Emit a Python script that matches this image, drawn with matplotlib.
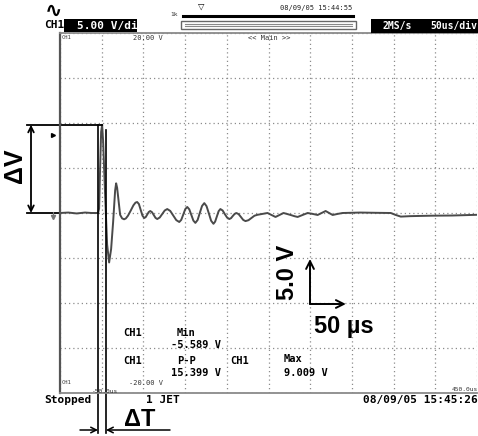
import numpy as np
import matplotlib
matplotlib.use("Agg")
from matplotlib import pyplot as plt
from matplotlib.patches import Rectangle

W, H = 478, 436

# trace (time in us, voltage in V)
timeUs = [-50, -40, -30, -20, -12, -6, -4.3, -3.1, -1.9, -0.7, 0.5, 1.7, 4.1, 6.5,
          8.9, 11.3, 13.7, 16.1, 17.3, 18.5, 19.7, 22.1, 24.5, 26.9,
          29, 31.5, 34.7, 38, 40.5, 42.5, 44.6, 46.8, 48.9, 51,
          52.8, 54.6, 56.4, 58.2, 60.3, 62.4, 64.5, 66.6,
          69.6, 72.6, 75.6, 78.6, 82.2, 85.8, 89.4, 93,
          95.4, 97.8, 100.2, 102.6, 105, 107.5, 109.9, 112.3,
          115, 117.6, 120.3, 123, 125.7, 128.5, 131.2, 134,
          136, 138.1, 140.2, 142.3, 145, 147.6, 150.3, 153,
          155.1, 157.2, 159.4, 161.5, 164.2, 167, 169.7, 172.4,
          176, 179.6, 183.2, 186.8, 192.8, 198.8, 203.6, 208.4, 213.2, 218,
          222, 226.5, 231, 234.9, 240.9, 246.9, 252.9, 258.9, 263.7, 268.5,
          272.7, 276.9, 282.9, 288.9, 310, 330, 346.6, 352, 358.6, 370,
          395, 420, 450]
volts = [0, 0.05, -0.05, 0.05, 0, 0, 0, 0.5, 5, 9, 9.8, 8, 2, -3.5,
         -5.5, -4, -1, 2.5, 3.3, 2.8, 1.8, -0.2, -0.6, -0.7,
         -0.6, -0.3, 0.25, 0.85, 1.15, 1.22, 1.0, 0.33, -0.3, -0.56,
         -0.45, -0.17, 0.11, 0.22, 0.09, -0.22, -0.54, -0.67,
         -0.5, -0.11, 0.28, 0.44, 0.23, -0.28, -0.79, -1.0,
         -0.76, -0.17, 0.43, 0.67, 0.41, -0.22, -0.84, -1.1,
         -0.78, 0, 0.78, 1.1, 0.76, -0.05, -0.86, -1.2,
         -0.96, -0.38, 0.2, 0.44, 0.28, -0.12, -0.5, -0.67,
         -0.57, -0.33, -0.1, 0, -0.13, -0.45, -0.77, -0.9,
         -0.8, -0.55, -0.3, -0.2, -0.1, 0, -0.22, -0.44, -0.22, 0,
         -0.1, -0.22, -0.35, -0.44, -0.22, 0, -0.1, -0.22, 0, 0.22,
         0, -0.22, -0.1, 0, 0.05, 0.02, 0, -0.2, -0.4, -0.35,
         -0.3, -0.28, -0.2]

tMin, tMax, usPerDiv = -50, 450, 50
vMin, vMax, vPerDiv = -20, 20, 5

headerLeft = "5.00 V/div"
headerRate = "2MS/s"
headerScale = "50us/div"
dateTop = "08/09/05 15:44:55"
dateBottom = "08/09/05 15:45:26"
measRows = [("CH1", "Min", "-5.589 V"), ("CH1", "P-P", "15.399 V")]
maxLabel = ("CH1", "Max", "9.009 V")

monoFont = "DejaVu Sans Mono"
boldFont = "Liberation Sans"

fig = plt.figure(figsize=(W / 100, H / 100), dpi=100)
fig.patch.set_facecolor("white")

# main scope screen, placed in pixels
left, right, top, bottom = 60, 477, 33, 393
ax = fig.add_axes([left / W, 1 - bottom / H, (right - left) / W, (bottom - top) / H])
ax.set_xlim(tMin, tMax)
ax.set_ylim(vMin, vMax)
ax.set_xticks(np.arange(tMin, tMax + 1, usPerDiv))
ax.set_yticks(np.arange(vMin, vMax + 1, vPerDiv))
ax.tick_params(length=0, labelbottom=False, labelleft=False)
ax.grid(True, color="#8c8c8c", linestyle=(0, (1, 2.4)), linewidth=0.9)
for s in ax.spines.values():
    s.set_color("#8a8a8a")
    s.set_linewidth(1.3)
ax.spines["left"].set_color("#555555")
ax.spines["left"].set_linewidth(1.6)
ax.spines["right"].set_visible(False)

ax.plot(timeUs, volts, color="#4a4a4a", linewidth=1.4, solid_joinstyle="round")

# helper to go from screen pixels to data
def px2t(x):
    return tMin + (x - left) * (tMax - tMin) / (right - left)

def py2v(y):
    return vMax - (y - top) * (vMax - vMin) / (bottom - top)

peakIdx = int(np.argmax(volts))
vPeak = volts[peakIdx]
tPeak = timeUs[peakIdx]

# delta V annotation
ax.plot([px2t(27), tPeak], [vPeak, vPeak], color="black", lw=1.3, clip_on=False)
ax.plot([px2t(27), tMin], [0, 0], color="black", lw=1.3, clip_on=False)
ax.annotate("", xy=(px2t(31), vPeak), xytext=(px2t(31), 0), annotation_clip=False,
            arrowprops=dict(arrowstyle="<->", color="black", lw=1.3, shrinkA=0, shrinkB=0))
ax.text(px2t(15), py2v(166), "ΔV", rotation=90, ha="center", va="center",
        fontsize=18, fontweight="bold", family=boldFont, clip_on=False)

# delta T annotation
tA, tB = px2t(98), px2t(106)
ax.plot([tA, tA], [vPeak, py2v(433)], color="black", lw=1.2, clip_on=False)
ax.plot([tB, tB], [py2v(130), py2v(433)], color="black", lw=1.2, clip_on=False)
yArr = py2v(430)
ax.annotate("", xy=(tA, yArr), xytext=(px2t(80), yArr), annotation_clip=False,
            arrowprops=dict(arrowstyle="->", color="black", lw=1.1, shrinkA=0, shrinkB=0))
ax.annotate("", xy=(tB, yArr), xytext=(px2t(170), yArr), annotation_clip=False,
            arrowprops=dict(arrowstyle="->", color="black", lw=1.1, shrinkA=0, shrinkB=0))
ax.text(px2t(140), py2v(420), "ΔT", ha="center", va="center", fontsize=17,
        fontweight="bold", family=boldFont, clip_on=False)

# scale bar
cx, cy = px2t(310), py2v(304)
ax.annotate("", xy=(cx, cy + vPerDiv), xytext=(cx, cy),
            arrowprops=dict(arrowstyle="->", color="black", lw=1.4, shrinkA=0, shrinkB=0,
                            mutation_scale=14))
ax.annotate("", xy=(cx + usPerDiv * 0.86, cy), xytext=(cx, cy),
            arrowprops=dict(arrowstyle="->", color="black", lw=1.4, shrinkA=0, shrinkB=0,
                            mutation_scale=14))
ax.text(px2t(288), py2v(272), "5.0 V", rotation=90, ha="center", va="center",
        fontsize=17, fontweight="bold", family=boldFont)
ax.text(px2t(344), py2v(327), "50 µs", ha="center", va="center",
        fontsize=17, fontweight="bold", family=boldFont)

# overlay in pixel coords for the scope chrome
ov = fig.add_axes([0, 0, 1, 1], zorder=5)
ov.set_xlim(0, W)
ov.set_ylim(H, 0)
ov.axis("off")
ov.patch.set_alpha(0)

def stxt(x, y, s, size=5, color="#333333", ha="left", weight="normal", **kw):
    return ov.text(x, y, s, fontsize=size, color=color, ha=ha, va="center",
                   family=monoFont, fontweight=weight, **kw)

ov.text(54, 11, "∿", fontsize=15, ha="center", va="center", family="DejaVu Sans",
        fontweight="bold")
stxt(44, 25.5, "CH1", size=8, color="black", weight="bold")
box = Rectangle((64, 19), 73, 13, facecolor="black", edgecolor="none")
ov.add_patch(box)
t = stxt(77, 25.5, headerLeft, size=8, color="white", weight="bold")
t.set_clip_path(box)

stxt(170, 15, "1k", size=4.5)
ov.text(201, 6.5, "▽", fontsize=6, ha="center", va="center", family="DejaVu Sans")
ov.plot([183, 353], [16, 16], color="black", lw=2.2)
ov.add_patch(Rectangle((181, 21), 175, 8, facecolor="white", edgecolor="#666666", lw=1))
ov.plot([185, 352], [24, 24], color="#888888", lw=0.8)
ov.plot([185, 352], [26.5, 26.5], color="#888888", lw=0.8)
stxt(280, 8, dateTop, size=5, color="#222222")

box2 = Rectangle((371, 19), 107, 14, facecolor="black", edgecolor="none")
ov.add_patch(box2)
stxt(383, 26, headerRate, size=7, color="white", weight="bold")
stxt(430, 26, headerScale, size=7, color="white", weight="bold")

stxt(62, 37.5, "CH1", size=4)
stxt(133, 37.5, "20.00 V", size=5)
stxt(248, 37.5, "<< Main >>", size=5)
stxt(62, 382, "CH1", size=4)
stxt(129, 382.5, "-20.00 V", size=5)
stxt(92, 391, "-50.0us", size=4.5)
stxt(478, 389, "450.0us", size=4.5, ha="right")

# trigger level and ground markers (drawn as small shapes)
ov.plot([53], [135], marker=">", ms=2.8, color="black", linestyle="none")
ov.plot([53, 53], [212, 216], color="#777777", lw=0.8)
ov.plot([53], [217], marker="v", ms=3, color="#777777", linestyle="none")

stxt(44, 400, "Stopped", size=8, color="black", weight="bold")
stxt(146, 400, "1 JET", size=8, color="black", weight="bold")
stxt(478, 400, dateBottom, size=8, color="black", weight="bold", ha="right")

# measurement readouts
for i, (ch, name, val) in enumerate(measRows):
    y0 = 333 + i * 28
    stxt(123, y0, ch, size=7.5, color="black", weight="bold")
    stxt(177, y0, name, size=7.5, color="black", weight="bold")
    stxt(171, y0 + 12, val, size=7.5, color="black", weight="bold")
stxt(230, 361, maxLabel[0], size=7.5, color="black", weight="bold")
stxt(284, 359, maxLabel[1], size=7.5, color="black", weight="bold")
stxt(284, 373, maxLabel[2], size=7.5, color="black", weight="bold")

fig.savefig("out.png", dpi=100, facecolor="white")
